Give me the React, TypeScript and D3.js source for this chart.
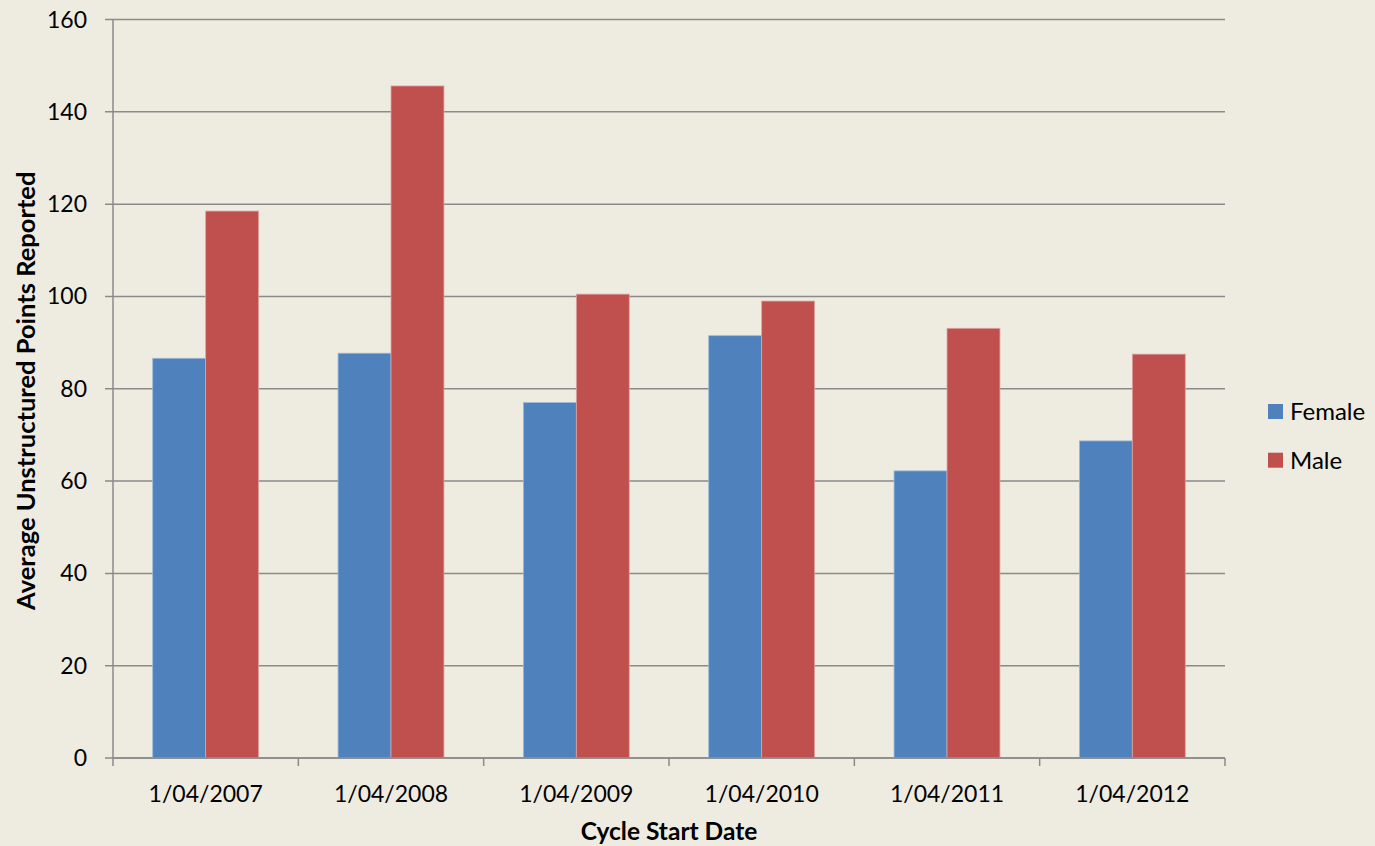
import React, { useEffect } from 'react'
import * as d3 from 'd3'

// chart data
const categories = ['1/04/2007', '1/04/2008', '1/04/2009', '1/04/2010', '1/04/2011', '1/04/2012']
const seriesNames = ['Female', 'Male']
const female = [86.6, 87.7, 77.0, 91.5, 62.2, 68.7]
const male = [118.5, 145.6, 100.5, 99.0, 93.1, 87.5]
const yTicks = [0, 20, 40, 60, 80, 100, 120, 140, 160]

const colors: Record<string, string> = { Female: '#4F81BD', Male: '#C0504D' }
const strokes: Record<string, string> = { Female: '#9FB8D9', Male: '#DFA3A1' }

const App = () => {
    useEffect(() => {
        document.body.style.margin = '0'
    }, [])

    const width = 1375, height = 846
    const left = 113, right = 1225, top = 19.5, bottom = 758
    const font = 'Lato, "Open Sans", sans-serif'
    const grid = '#8A8A8A'

    const x0 = d3.scaleBand<string>().domain(categories).range([left, right]).padding(0)
    const x1 = d3.scaleBand<string>().domain(seriesNames).range([0, x0.bandwidth()])
        .paddingInner(0).paddingOuter(0.75)
    const y = d3.scaleLinear().domain([0, 160]).range([bottom, top])

    const values: Record<string, number[]> = { Female: female, Male: male }
    const bounds = [...categories.map(c => x0(c) as number), right]

    return (
        <svg width={width} height={height} style={{ display: 'block' }}>
            <rect x={0} y={0} width={width} height={height} fill="#EEECE1" />
            {/* gridlines + y ticks */}
            {yTicks.map(t => (
                <g key={t}>
                    <line x1={left - 8} x2={right} y1={y(t)} y2={y(t)} stroke={grid} strokeWidth={1.5} />
                    <text x={87} y={y(t)} dy="0.35em" textAnchor="end" fontFamily={font} fontSize={23} fill="#000">{t}</text>
                </g>
            ))}
            {/* bars */}
            {categories.map((c, i) => (
                <g key={c} transform={`translate(${x0(c)},0)`}>
                    {seriesNames.map(s => (
                        <rect key={s} x={x1(s)} y={y(values[s][i])} width={x1.bandwidth()}
                            height={bottom - y(values[s][i])} fill={colors[s]} stroke={strokes[s]} strokeWidth={0.8} />
                    ))}
                </g>
            ))}
            {/* axes */}
            <line x1={left} x2={left} y1={top} y2={bottom} stroke={grid} strokeWidth={1.5} />
            <line x1={left} x2={right} y1={bottom} y2={bottom} stroke={grid} strokeWidth={1.5} />
            {bounds.map((b, i) => (
                <line key={i} x1={b} x2={b} y1={bottom} y2={bottom + 8} stroke={grid} strokeWidth={1.5} />
            ))}
            {categories.map(c => (
                <text key={c} x={(x0(c) as number) + x0.bandwidth() / 2} y={802} textAnchor="middle"
                    fontFamily={font} fontSize={23} fill="#000">{c}</text>
            ))}
            {/* axis titles */}
            <text x={(left + right) / 2} y={840} textAnchor="middle" fontFamily={font} fontSize={24.5}
                fontWeight="bold" fill="#000">Cycle Start Date</text>
            <text transform={`translate(35,${(top + bottom) / 2 + 2}) rotate(-90)`} textAnchor="middle"
                fontFamily={font} fontSize={25.5} fontWeight="bold" fill="#000">Average Unstructured Points Reported</text>
            {/* legend */}
            {seriesNames.map((s, i) => (
                <g key={s} transform={`translate(1268,${404 + i * 48.7})`}>
                    <rect x={0} y={0} width={15} height={15} fill={colors[s]} />
                    <text x={22} y={7.5} dy="0.35em" fontFamily={font} fontSize={24} fill="#000">{s}</text>
                </g>
            ))}
        </svg>
    )
}

export default App
